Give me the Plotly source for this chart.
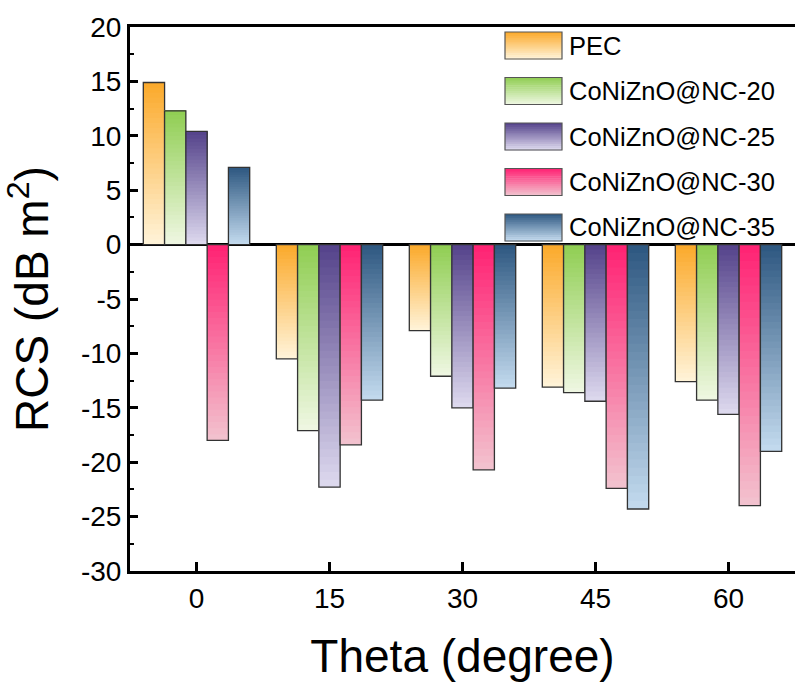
import plotly.graph_objects as go

# ---- data ----
categories = ["0", "15", "30", "45", "60"]
series_names = ["PEC", "CoNiZnO@NC-20", "CoNiZnO@NC-25", "CoNiZnO@NC-30", "CoNiZnO@NC-35"]
pec = [14.9, -10.5, -7.9, -13.1, -12.6]
nc20 = [12.3, -17.1, -12.1, -13.6, -14.3]
nc25 = [10.4, -22.3, -15.0, -14.4, -15.6]
nc30 = [-18.0, -18.4, -20.7, -22.4, -24.0]
nc35 = [7.1, -14.3, -13.2, -24.3, -19.0]
series_values = [pec, nc20, nc25, nc30, nc35]

y_tickvals = [20, 15, 10, 5, 0, -5, -10, -15, -20, -25, -30]
y_ticktext = ["20", "15", "10", "5", "0", "-5", "-10", "-15", "-20", "-25", "-30"]

# gradient colours (top, bottom)
top_colors = ["#FBA92A", "#90CE52", "#54428A", "#FF2173", "#2D5780"]
bottom_colors = ["#FFF4DA", "#EFF7E3", "#DEDAEF", "#F2C4CF", "#C4DBEF"]

FONT = "Liberation Sans, Arial, sans-serif"
N = 32  # gradient bands per bar (styling only)


def hex2rgb(h):
    h = h.lstrip("#")
    return tuple(int(h[i:i + 2], 16) for i in (0, 2, 4))


def mix(c1, c2, t):
    a, b = hex2rgb(c1), hex2rgb(c2)
    return "rgb(%d,%d,%d)" % tuple(round(a[i] + (b[i] - a[i]) * t) for i in range(3))


fig = go.Figure()

for s, (name, vals) in enumerate(zip(series_names, series_values)):
    # gradient: stacked overlapping bars, dark at the top edge, light at the bottom edge
    for k in range(N):
        frac = (N - k) / N
        t = (N - k - 0.5) / N
        bases = [v * k / N if v > 0 else 0 for v in vals]
        ys = [v * frac for v in vals]
        fig.add_trace(go.Bar(
            x=categories, y=ys, base=bases, offsetgroup=str(s),
            marker=dict(color=mix(top_colors[s], bottom_colors[s], t), line=dict(width=0)),
            showlegend=False, hoverinfo="skip",
        ))
    # outline
    fig.add_trace(go.Bar(
        x=categories, y=vals, offsetgroup=str(s), name=name,
        marker=dict(color="rgba(0,0,0,0)", line=dict(color="#333333", width=1.3)),
        showlegend=False,
    ))

# ---- manual legend with gradient boxes ----
plot_top, plot_bottom = 27, 571
ph = plot_bottom - plot_top


def py(pix):
    return (plot_bottom - pix) / ph


x0, x1 = (505 - 130) / 665, (562 - 130) / 665
shapes = []
annotations = []
M = 14
for i, name in enumerate(series_names):
    top = 32 + 45.5 * i
    bot = top + 27
    for j in range(M):
        a = top + (bot - top) * j / M
        b = top + (bot - top) * (j + 1) / M + 0.6
        shapes.append(dict(type="rect", xref="paper", yref="paper", x0=x0, x1=x1,
                           y0=py(b), y1=py(a), line=dict(width=0),
                           fillcolor=mix(top_colors[i], bottom_colors[i], (j + 0.5) / M), layer="above"))
    shapes.append(dict(type="rect", xref="paper", yref="paper", x0=x0, x1=x1,
                       y0=py(bot), y1=py(top), line=dict(color="#555555", width=1.2),
                       fillcolor="rgba(0,0,0,0)", layer="above"))
    annotations.append(dict(xref="paper", yref="paper", x=(567 - 130) / 665, y=py((top + bot) / 2),
                            text=name, showarrow=False, xanchor="left", yanchor="middle",
                            font=dict(family=FONT, size=25.5, color="black")))

fig.update_layout(
    width=795, height=691,
    margin=dict(l=130, r=0, t=27, b=120),
    paper_bgcolor="white", plot_bgcolor="white",
    barmode="group", bargap=0.2, bargroupgap=0,
    shapes=shapes, annotations=annotations,
    showlegend=False,
    font=dict(family=FONT, color="black"),
)

fig.update_xaxes(
    type="category", range=[-0.5, 4.5], automargin=False,
    showline=True, linecolor="black", linewidth=3, mirror=True,
    ticks="inside", ticklen=9, tickwidth=2.5, tickcolor="black",
    tickfont=dict(family=FONT, size=28, color="black"),
    showgrid=False,
    title=dict(text="Theta (degree)", font=dict(family=FONT, size=46, color="black"), standoff=28),
)
fig.update_yaxes(
    range=[-30, 20], automargin=False,
    tickmode="array", tickvals=y_tickvals, ticktext=y_ticktext,
    showline=True, linecolor="black", linewidth=3, mirror=False,
    ticks="inside", ticklen=8, tickwidth=2.5, tickcolor="black",
    minor=dict(ticks="inside", ticklen=4, tickwidth=2, tickmode="linear", tick0=0, dtick=2.5, tickcolor="black"),
    tickfont=dict(family=FONT, size=28, color="black"),
    showgrid=False,
    zeroline=True, zerolinecolor="black", zerolinewidth=2.8,
    title=dict(text="RCS (dB m<sup>2</sup>)", font=dict(family=FONT, size=46, color="black"), standoff=18),
)

fig.write_html("out.html", config={"displayModeBar": False},
               post_script="document.body.style.margin='0';document.body.style.overflow='hidden';")
